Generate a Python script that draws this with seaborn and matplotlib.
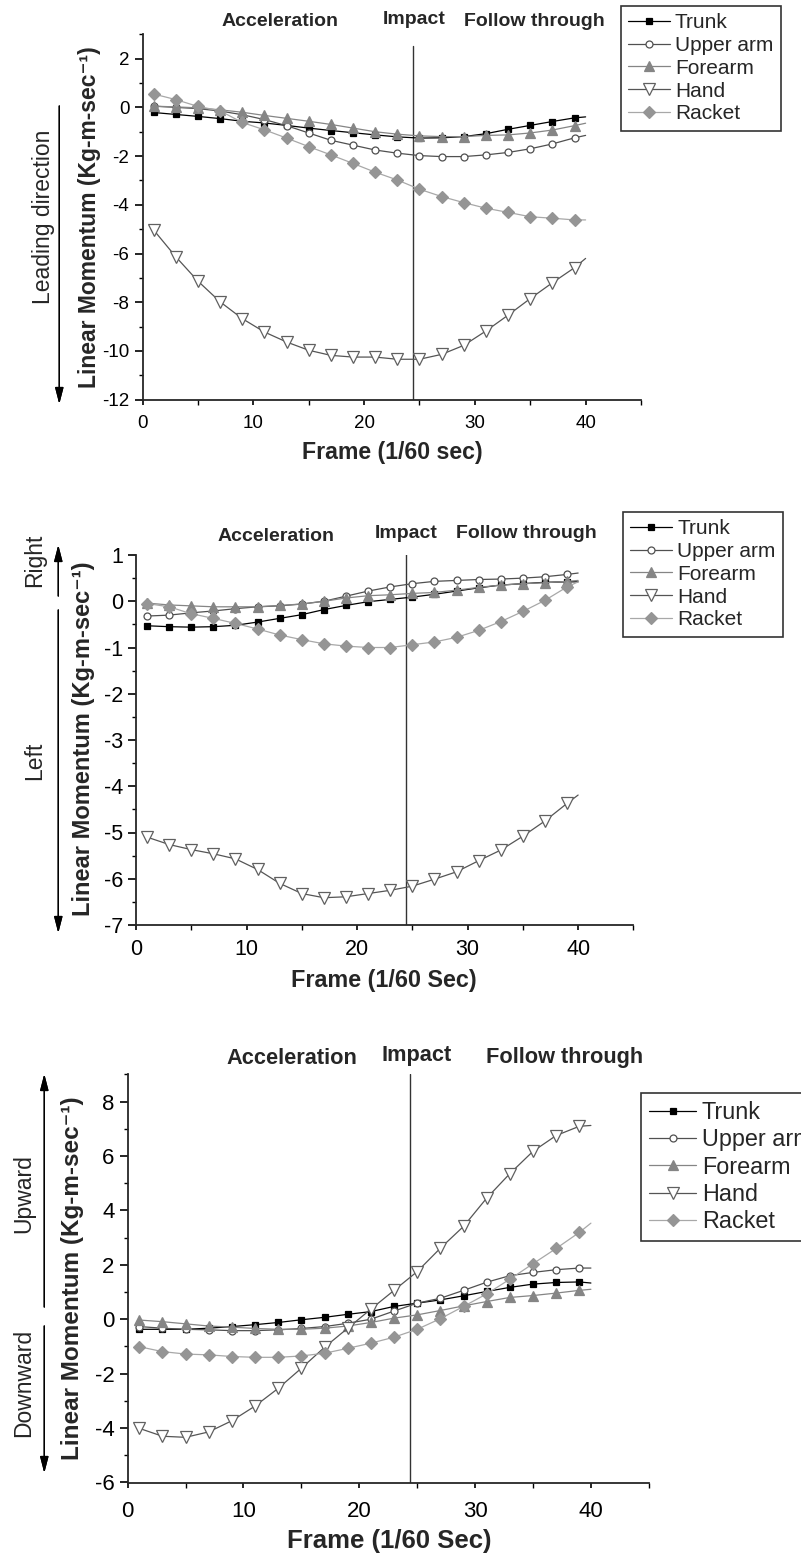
import pandas as pd
import seaborn as sns
import matplotlib.pyplot as plt
from matplotlib.ticker import MultipleLocator
from matplotlib.lines import Line2D
from matplotlib.patches import ArrowStyle

W, H = 801, 1556

frames = [1, 3, 5, 7, 9, 11, 13, 15, 17, 19, 21, 23, 25, 27, 29, 31, 33, 35, 37, 39, 40]
segments = ['Trunk', 'Upper arm', 'Forearm', 'Hand', 'Racket']

# leading direction
trunk_lead = [-0.21, -0.29, -0.37, -0.46, -0.57, -0.64, -0.74, -0.85, -0.95, -1.04, -1.13,
              -1.21, -1.26, -1.25, -1.2, -1.08, -0.9, -0.74, -0.58, -0.43, -0.39]
upper_lead = [0.05, 0.0, -0.05, -0.15, -0.3, -0.5, -0.75, -1.05, -1.35, -1.55, -1.75,
              -1.88, -1.98, -2.02, -2.02, -1.95, -1.85, -1.7, -1.5, -1.25, -1.15]
fore_lead = [0.05, 0.02, -0.02, -0.1, -0.2, -0.33, -0.45, -0.57, -0.7, -0.85, -1.0,
             -1.1, -1.17, -1.2, -1.2, -1.15, -1.13, -1.05, -0.93, -0.75, -0.65]
hand_lead = [-5.03, -6.13, -7.13, -7.98, -8.67, -9.22, -9.63, -9.97, -10.18, -10.25, -10.25,
             -10.34, -10.34, -10.14, -9.77, -9.18, -8.53, -7.85, -7.2, -6.58, -6.2]
racket_lead = [0.55, 0.32, 0.04, -0.14, -0.62, -0.92, -1.26, -1.61, -1.95, -2.3, -2.66,
               -2.98, -3.36, -3.66, -3.91, -4.14, -4.31, -4.49, -4.55, -4.62, -4.62]

# right / left
trunk_side = [-0.53, -0.55, -0.56, -0.55, -0.52, -0.45, -0.37, -0.29, -0.18, -0.09, -0.01,
              0.04, 0.09, 0.15, 0.22, 0.29, 0.35, 0.38, 0.41, 0.42, 0.42]
upper_side = [-0.32, -0.3, -0.25, -0.21, -0.16, -0.12, -0.1, -0.06, 0.0, 0.11, 0.22,
              0.31, 0.38, 0.43, 0.45, 0.47, 0.48, 0.5, 0.53, 0.58, 0.61]
fore_side = [-0.04, -0.08, -0.1, -0.12, -0.12, -0.12, -0.09, -0.06, 0.0, 0.07, 0.12,
             0.14, 0.17, 0.19, 0.24, 0.3, 0.35, 0.38, 0.4, 0.43, 0.45]
hand_side = [-5.1, -5.26, -5.37, -5.46, -5.57, -5.8, -6.1, -6.32, -6.41, -6.39, -6.32,
             -6.25, -6.16, -6.01, -5.85, -5.61, -5.38, -5.08, -4.75, -4.37, -4.19]
racket_side = [-0.05, -0.12, -0.27, -0.37, -0.48, -0.6, -0.73, -0.83, -0.92, -0.97, -1.0,
               -1.0, -0.94, -0.88, -0.78, -0.63, -0.44, -0.22, 0.02, 0.31, 0.42]

# upward / downward
trunk_vert = [-0.37, -0.37, -0.37, -0.33, -0.27, -0.2, -0.12, -0.02, 0.07, 0.18, 0.28,
              0.47, 0.59, 0.71, 0.86, 1.02, 1.17, 1.29, 1.35, 1.37, 1.33]
upper_vert = [-0.27, -0.33, -0.37, -0.39, -0.42, -0.42, -0.39, -0.34, -0.27, -0.15, 0.0,
              0.3, 0.59, 0.77, 1.06, 1.36, 1.6, 1.72, 1.82, 1.88, 1.88]
fore_vert = [-0.03, -0.09, -0.17, -0.25, -0.29, -0.34, -0.37, -0.37, -0.33, -0.25, -0.12,
             0.04, 0.16, 0.32, 0.49, 0.65, 0.8, 0.87, 0.96, 1.06, 1.1]
hand_vert = [-4.01, -4.3, -4.34, -4.14, -3.73, -3.19, -2.54, -1.8, -1.03, -0.33, 0.37,
             1.06, 1.75, 2.61, 3.41, 4.45, 5.35, 6.17, 6.75, 7.09, 7.12]
racket_vert = [-1.01, -1.19, -1.28, -1.31, -1.37, -1.4, -1.4, -1.35, -1.25, -1.07, -0.88,
               -0.66, -0.37, 0.02, 0.47, 0.93, 1.47, 2.04, 2.6, 3.19, 3.53]

impact_frame = 24.4

styles = {
    'Trunk': dict(color='black', marker='s', mfc='black', mec='black', ms=4.5),
    'Upper arm': dict(color='#505050', marker='o', mfc='white', mec='#505050', ms=5),
    'Forearm': dict(color='#858585', marker='^', mfc='#858585', mec='#858585', ms=7.5),
    'Hand': dict(color='#555555', marker='v', mfc='white', mec='#606060', ms=8.5),
    'Racket': dict(color='#a8a8a8', marker='D', mfc='#959595', mec='#959595', ms=6),
}

sns.set_theme(style='ticks')
plt.rcParams['font.family'] = ['Liberation Sans', 'DejaVu Sans']
plt.rcParams['axes.linewidth'] = 1.3
plt.rcParams['axes.unicode_minus'] = False


def fx(x):
    return x / W


def fy(y):
    return 1 - y / H


fig = plt.figure(figsize=(W / 100, H / 100), dpi=100)
fig.patch.set_facecolor('white')

panels = [
    dict(data=[trunk_lead, upper_lead, fore_lead, hand_lead, racket_lead],
         box=(142.5, 34.3, 641, 399.7), ylim=(-12, 3), major=2, minor=1, vtop=2.5,
         phase_y=(22, 20, 22), phase_x=(280, 414, 534), phase_fs=14,
         tick_fs=13.5, xpad=7.5, leg_fs=15,
         legend=(620.7, 6), xlabel=('Frame (1/60 sec)', 392, 452, 16.7),
         ylabel=(90, 217, 16.5)),
    dict(data=[trunk_side, upper_side, fore_side, hand_side, racket_side],
         box=(136, 555, 633.4, 925), ylim=(-7, 1), major=1, minor=0.5, vtop=1.05,
         phase_y=(537, 533, 533), phase_x=(276, 406, 526), phase_fs=14,
         tick_fs=15.5, xpad=6.5, leg_fs=15,
         legend=(623, 512), xlabel=('Frame (1/60 Sec)', 384, 980, 16.8),
         ylabel=(83.5, 739, 17)),
    dict(data=[trunk_vert, upper_vert, fore_vert, hand_vert, racket_vert],
         box=(127.7, 1074.3, 648.8, 1482.5), ylim=(-6, 9), major=2, minor=1, vtop=9,
         phase_y=(1058, 1055, 1057), phase_x=(292, 417, 565), phase_fs=15.7,
         tick_fs=16, xpad=9.5, leg_fs=16.8,
         legend=(641, 1093), xlabel=('Frame (1/60 Sec)', 389, 1541, 18.5),
         ylabel=(72.5, 1278, 17.5)),
]

arrow = ArrowStyle('-|>', head_length=0.7, head_width=0.18)

for p in panels:
    x0, y0, x1, y1 = p['box']
    ax = fig.add_axes([fx(x0), fy(y1), (x1 - x0) / W, (y1 - y0) / H])
    for name, vals in zip(segments, p['data']):
        st = styles[name]
        sns.lineplot(x=frames, y=vals, ax=ax, color=st['color'], lw=0.9,
                     marker=st['marker'], markerfacecolor=st['mfc'],
                     markeredgecolor=st['mec'], markersize=st['ms'],
                     markeredgewidth=0.9, markevery=slice(0, 20), zorder=3)
    ax.set_xlim(0, 45)
    ax.set_ylim(*p['ylim'])
    ax.set_xticks([0, 10, 20, 30, 40])
    ax.xaxis.set_minor_locator(MultipleLocator(5))
    ax.yaxis.set_major_locator(MultipleLocator(p['major']))
    ax.yaxis.set_minor_locator(MultipleLocator(p['minor']))
    ax.tick_params(which='major', direction='out', length=5.5, width=1.2,
                   labelsize=p['tick_fs'], colors='black', pad=4)
    ax.tick_params(which='minor', direction='out', length=3, width=1.0, colors='black')
    ax.tick_params(axis='x', which='both', length=3.8)
    ax.tick_params(axis='x', which='major', pad=p['xpad'])
    sns.despine(ax=ax)
    ax.set_xlabel('')
    ax.set_ylabel('')

    lo, hi = p['ylim']
    ax.axvline(impact_frame, ymin=0, ymax=(p['vtop'] - lo) / (hi - lo),
               color='#333333', lw=1.0, zorder=2)

    for label, px, py in zip(['Acceleration', 'Impact', 'Follow through'],
                             p['phase_x'], p['phase_y']):
        fig.text(fx(px), fy(py), label, ha='center', va='center',
                 fontsize=p['phase_fs'], fontweight='bold')

    xl, xlx, xly, xfs = p['xlabel']
    fig.text(fx(xlx), fy(xly), xl, ha='center', va='center',
             fontsize=xfs, fontweight='bold')
    ylx, yly, yfs = p['ylabel']
    fig.text(fx(ylx), fy(yly), 'Linear Momentum (Kg-m-sec\u207b\u00b9)',
             ha='center', va='center', rotation=90, fontsize=yfs, fontweight='bold')

    handles = [Line2D([], [], color=styles[n]['color'], lw=0.9,
                      marker=styles[n]['marker'], mfc=styles[n]['mfc'],
                      mec=styles[n]['mec'], ms=styles[n]['ms'], mew=0.9)
               for n in segments]
    lx, ly = p['legend']
    leg = fig.legend(handles, segments, loc='upper left',
                     bbox_to_anchor=(fx(lx), fy(ly)), fontsize=p['leg_fs'],
                     frameon=True, fancybox=False, borderpad=0.35,
                     labelspacing=0.18, handlelength=2.0, handletextpad=0.25,
                     borderaxespad=0)
    leg.get_frame().set_edgecolor('black')
    leg.get_frame().set_linewidth(1.2)


def side_arrow(x, y_from, y_to):
    fig.add_artist(plt.annotate('', xy=(fx(x), fy(y_to)), xytext=(fx(x), fy(y_from)),
                                xycoords='figure fraction', textcoords='figure fraction',
                                arrowprops=dict(arrowstyle=arrow, color='black', lw=1.0,
                                                mutation_scale=14, shrinkA=0, shrinkB=0)))


def side_text(x, y, s):
    fig.text(fx(x), fy(y), s, ha='center', va='center', rotation=90, fontsize=16.5)


# panel 1 direction
side_text(43.5, 217, 'Leading direction')
side_arrow(59.3, 106, 404)
# panel 2 directions
side_text(35, 560, 'Right')
side_arrow(58.3, 596, 545)
side_text(35, 761, 'Left')
side_arrow(58.3, 610, 933)
# panel 3 directions
side_text(24, 1194, 'Upward')
side_arrow(44.3, 1307, 1074)
side_text(24, 1383, 'Downward')
side_arrow(44.3, 1326, 1473)

fig.savefig('out.png', dpi=100, facecolor='white')
